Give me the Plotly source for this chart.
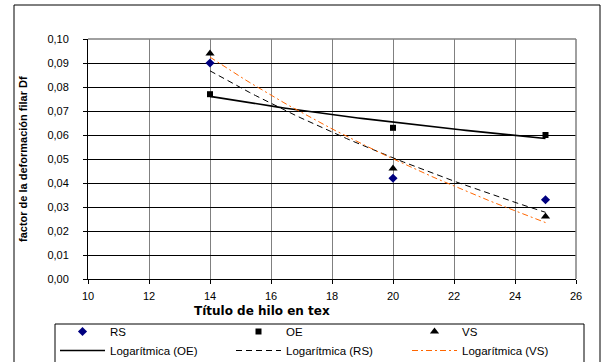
import numpy as np
import plotly.graph_objects as go

x_vals = [14, 20, 25]
rs = [0.090, 0.042, 0.033]
oe = [0.077, 0.063, 0.060]
vs = [0.094, 0.046, 0.026]

x_ticks = [10, 12, 14, 16, 18, 20, 22, 24, 26]
y_ticks = [0.00, 0.01, 0.02, 0.03, 0.04, 0.05, 0.06, 0.07, 0.08, 0.09, 0.10]

FONT = "Liberation Sans, Arial, sans-serif"


def log_fit(xs, ys):
    b, a = np.polyfit(np.log(xs), ys, 1)
    xx = np.linspace(min(xs), max(xs), 60)
    return xx, a + b * np.log(xx)


fig = go.Figure()
fig.add_trace(go.Scatter(x=x_vals, y=rs, mode="markers", name="RS",
                         marker=dict(symbol="diamond", size=7, color="#000080")))
fig.add_trace(go.Scatter(x=x_vals, y=oe, mode="markers", name="OE",
                         marker=dict(symbol="square", size=6, color="black")))
fig.add_trace(go.Scatter(x=x_vals, y=vs, mode="markers", name="VS",
                         marker=dict(symbol="triangle-up", size=8, color="black")))

xx, yy = log_fit(x_vals, oe)
fig.add_trace(go.Scatter(x=xx, y=yy, mode="lines", name="Logarítmica (OE)",
                         line=dict(color="black", width=1.6)))
xx, yy = log_fit(x_vals, rs)
fig.add_trace(go.Scatter(x=xx, y=yy, mode="lines", name="Logarítmica (RS)",
                         line=dict(color="black", width=1, dash="6px,4px")))
xx, yy = log_fit(x_vals, vs)
fig.add_trace(go.Scatter(x=xx, y=yy, mode="lines", name="Logarítmica (VS)",
                         line=dict(color="#FF6600", width=1, dash="6px,3px,2px,3px")))

L, R, T, B = 88, 30, 39, 83
PW = 606 - L - R
PH = 362 - T - B


def px_x(p):
    return (p - L) / PW


def px_y(p):
    return (362 - B - p) / PH


fig.update_layout(
    width=606, height=362,
    margin=dict(l=L, r=R, t=T, b=B, autoexpand=False),
    paper_bgcolor="white", plot_bgcolor="white",
    font=dict(family=FONT, size=11, color="black"),
    separators=",.",
    showlegend=True,
    legend=dict(orientation="h", x=px_x(55), y=px_y(317), xanchor="left", yanchor="top",
                borderwidth=0, bgcolor="rgba(0,0,0,0)",
                entrywidth=116, entrywidthmode="pixels", itemwidth=45,
                font=dict(family=FONT, size=11.5, color="black"),
                tracegroupgap=0, traceorder="normal"),
    xaxis=dict(range=[10, 26], tickvals=x_ticks, ticktext=[str(v) for v in x_ticks],
               showgrid=True, gridcolor="#808080", gridwidth=1,
               showline=True, linecolor="black", linewidth=1,
               ticks="outside", ticklen=4, tickcolor="black",
               zeroline=False, tickfont=dict(size=11), ticklabelstandoff=3),
    yaxis=dict(range=[0, 0.10], tickvals=y_ticks, tickformat=".2f",
               showgrid=True, gridcolor="black", gridwidth=1,
               showline=True, linecolor="black", linewidth=1,
               ticks="outside", ticklen=4, tickcolor="black",
               zeroline=False, tickfont=dict(size=11), ticklabelstandoff=12),
    shapes=[
        dict(type="rect", xref="paper", yref="paper",
             x0=px_x(14), x1=px_x(600), y0=px_y(366), y1=px_y(5),
             line=dict(color="black", width=1), fillcolor="rgba(0,0,0,0)", layer="below"),
        dict(type="rect", xref="paper", yref="paper",
             x0=px_x(55), x1=px_x(584), y0=px_y(364), y1=px_y(324),
             line=dict(color="black", width=1), fillcolor="rgba(0,0,0,0)", layer="below"),
        dict(type="line", xref="paper", yref="paper", x0=0, x1=1, y0=1, y1=1,
             line=dict(color="#808080", width=1.5), layer="above"),
        dict(type="line", xref="paper", yref="paper", x0=1, x1=1, y0=0, y1=1,
             line=dict(color="#808080", width=1.5), layer="above"),
    ],
    annotations=[
        dict(text="<b>Título de hilo en tex</b>", xref="paper", yref="paper",
             x=px_x(262), y=px_y(311), xanchor="center", yanchor="middle",
             showarrow=False, font=dict(family="DejaVu Sans, sans-serif", size=12, color="black")),
        dict(text="<b>factor de la deformación filar Df</b>", xref="paper", yref="paper",
             x=px_x(23), y=px_y(159), xanchor="center", yanchor="middle", textangle=-90,
             showarrow=False, font=dict(family=FONT, size=11, color="black")),
    ],
)

fig.write_html("out.html")
